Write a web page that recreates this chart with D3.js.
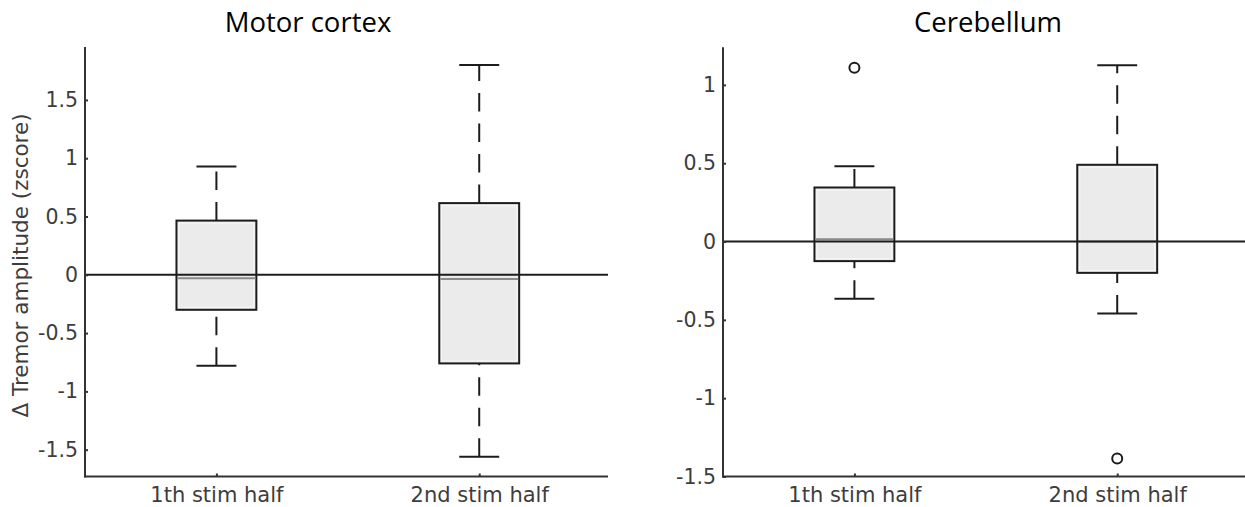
<!DOCTYPE html>
<html><head><meta charset="utf-8">
<script src="https://cdn.jsdelivr.net/npm/d3@7"></script>
<style>
html,body{margin:0;padding:0;background:#fff;}
svg{display:block;}
</style></head>
<body>
<svg id="chart" width="1245" height="507"></svg>
<script>
// ---- data ----
const categories = ["1th stim half", "2nd stim half"];
const panelTitles = ["Motor cortex", "Cerebellum"];
const yLabel = "\u0394 Tremor amplitude (zscore)";

const motorLowWhisker  = [-0.78, -1.56];
const motorQ1          = [-0.30, -0.76];
const motorMedian      = [-0.03, -0.035];
const motorQ3          = [0.465, 0.615];
const motorHighWhisker = [0.93, 1.80];
const motorOutliers    = [[], []];
const motorTicks       = [-1.5, -1, -0.5, 0, 0.5, 1, 1.5];

const cerebLowWhisker  = [-0.365, -0.46];
const cerebQ1          = [-0.125, -0.20];
const cerebMedian      = [0.015, 0.0];
const cerebQ3          = [0.345, 0.49];
const cerebHighWhisker = [0.48, 1.125];
const cerebOutliers    = [[1.11], [-1.385]];
const cerebTicks       = [-1.5, -1, -0.5, 0, 0.5, 1];

// ---- layout ----
const svg = d3.select("#chart");
const tickFont = "'DejaVu Sans', sans-serif";
const titleFont = "'Open Sans', Lato, sans-serif";

const panels = [
  { title: panelTitles[0], titleX: 308, x0: 85, x1: 608, yDomain: [-1.73, 1.954], yRange: [476.5, 47],
    low: motorLowWhisker, q1: motorQ1, med: motorMedian, q3: motorQ3, high: motorHighWhisker,
    out: motorOutliers, ticks: motorTicks, ylabel: true },
  { title: panelTitles[1], titleX: 988, x0: 723, x1: 1246, yDomain: [-1.5, 1.24], yRange: [476.5, 47.3],
    low: cerebLowWhisker, q1: cerebQ1, med: cerebMedian, q3: cerebQ3, high: cerebHighWhisker,
    out: cerebOutliers, ticks: cerebTicks, ylabel: false }
];

const boxHalf = 0.152;   // in category units
const capHalf = 0.076;
const dark = "#1c1c1c";
const textGray = "#3d3d3d";

panels.forEach(p => {
  const x = d3.scaleLinear().domain([0.5, 2.49]).range([p.x0, p.x1]);
  const y = d3.scaleLinear().domain(p.yDomain).range(p.yRange);
  const g = svg.append("g");
  const idx = categories.map((c, i) => i);

  // whiskers (drawn from lower value to higher value)
  idx.forEach(i => {
    const cx = x(i + 1);
    [[p.low[i], p.q1[i]], [p.q3[i], p.high[i]]].forEach(([a, b]) => {
      g.append("line").attr("x1", cx).attr("x2", cx)
        .attr("y1", y(a)).attr("y2", y(b))
        .attr("stroke", dark).attr("stroke-width", 2)
        .attr("stroke-dasharray", "18.5,12");
    });
    [p.low[i], p.high[i]].forEach(v => {
      g.append("line")
        .attr("x1", x(i + 1 - capHalf)).attr("x2", x(i + 1 + capHalf))
        .attr("y1", y(v)).attr("y2", y(v))
        .attr("stroke", dark).attr("stroke-width", 2);
    });
  });

  // boxes
  g.selectAll("rect.box").data(idx).join("rect").attr("class", "box")
    .attr("x", i => x(i + 1 - boxHalf))
    .attr("width", i => x(i + 1 + boxHalf) - x(i + 1 - boxHalf))
    .attr("y", i => y(p.q3[i]))
    .attr("height", i => y(p.q1[i]) - y(p.q3[i]))
    .attr("fill", "#ebebeb").attr("stroke", dark).attr("stroke-width", 2);
  g.selectAll("rect.inner").data(idx).join("rect").attr("class", "inner")
    .attr("x", i => x(i + 1 - boxHalf) + 2.5)
    .attr("width", i => x(i + 1 + boxHalf) - x(i + 1 - boxHalf) - 5)
    .attr("y", i => y(p.q3[i]) + 2.5)
    .attr("height", i => y(p.q1[i]) - y(p.q3[i]) - 5)
    .attr("fill", "none").attr("stroke", "#f7f7f7").attr("stroke-width", 1);

  // medians
  g.selectAll("line.med").data(idx).join("line").attr("class", "med")
    .attr("x1", i => x(i + 1 - boxHalf) + 1).attr("x2", i => x(i + 1 + boxHalf) - 1)
    .attr("y1", i => y(p.med[i])).attr("y2", i => y(p.med[i]))
    .attr("stroke", "#8a8a8a").attr("stroke-width", 2);

  // zero line
  g.append("line").attr("x1", p.x0).attr("x2", p.x1)
    .attr("y1", y(0)).attr("y2", y(0))
    .attr("stroke", dark).attr("stroke-width", 2);

  // outliers
  idx.forEach(i => {
    p.out[i].forEach(v => {
      g.append("circle").attr("cx", x(i + 1)).attr("cy", y(v)).attr("r", 5)
        .attr("fill", "#fff").attr("stroke", dark).attr("stroke-width", 2);
    });
  });

  // y axis
  const yAxis = d3.axisLeft(y).tickValues(p.ticks).tickSize(-3).tickPadding(7)
    .tickFormat(d => String(d));
  const ya = g.append("g").attr("transform", `translate(${p.x0},0)`).call(yAxis);
  ya.select(".domain").remove();
  ya.selectAll(".tick line").attr("stroke", "#333").attr("stroke-width", 2);
  ya.selectAll(".tick text").attr("font-family", tickFont).attr("font-size", 20.5).attr("fill", textGray);
  g.append("line").attr("x1", p.x0).attr("x2", p.x0).attr("y1", p.yRange[1]).attr("y2", p.yRange[0] + 1)
    .attr("stroke", "#333").attr("stroke-width", 2);

  // x axis
  const xAxis = d3.axisBottom(x).tickValues([1, 2]).tickSize(-3).tickPadding(10.5)
    .tickFormat(d => categories[d - 1]);
  const xa = g.append("g").attr("transform", `translate(0,${p.yRange[0]})`).call(xAxis);
  xa.select(".domain").remove();
  xa.selectAll(".tick line").attr("stroke", "#333").attr("stroke-width", 2);
  xa.selectAll(".tick text").attr("font-family", tickFont).attr("font-size", 21).attr("fill", textGray);
  g.append("line").attr("x1", p.x0 - 1).attr("x2", p.x1).attr("y1", p.yRange[0]).attr("y2", p.yRange[0])
    .attr("stroke", "#333").attr("stroke-width", 2);

  // title
  svg.append("text").attr("x", p.titleX).attr("y", 32).attr("text-anchor", "middle")
    .attr("font-family", titleFont).attr("font-size", 27.5).attr("fill", "#000").text(p.title);

  if (p.ylabel) {
    svg.append("text").attr("transform", `translate(28,${265.5}) rotate(-90)`)
      .attr("text-anchor", "middle").attr("font-family", tickFont).attr("font-size", 21.5)
      .attr("fill", textGray).text(yLabel);
  }
});
</script>
</body></html>
